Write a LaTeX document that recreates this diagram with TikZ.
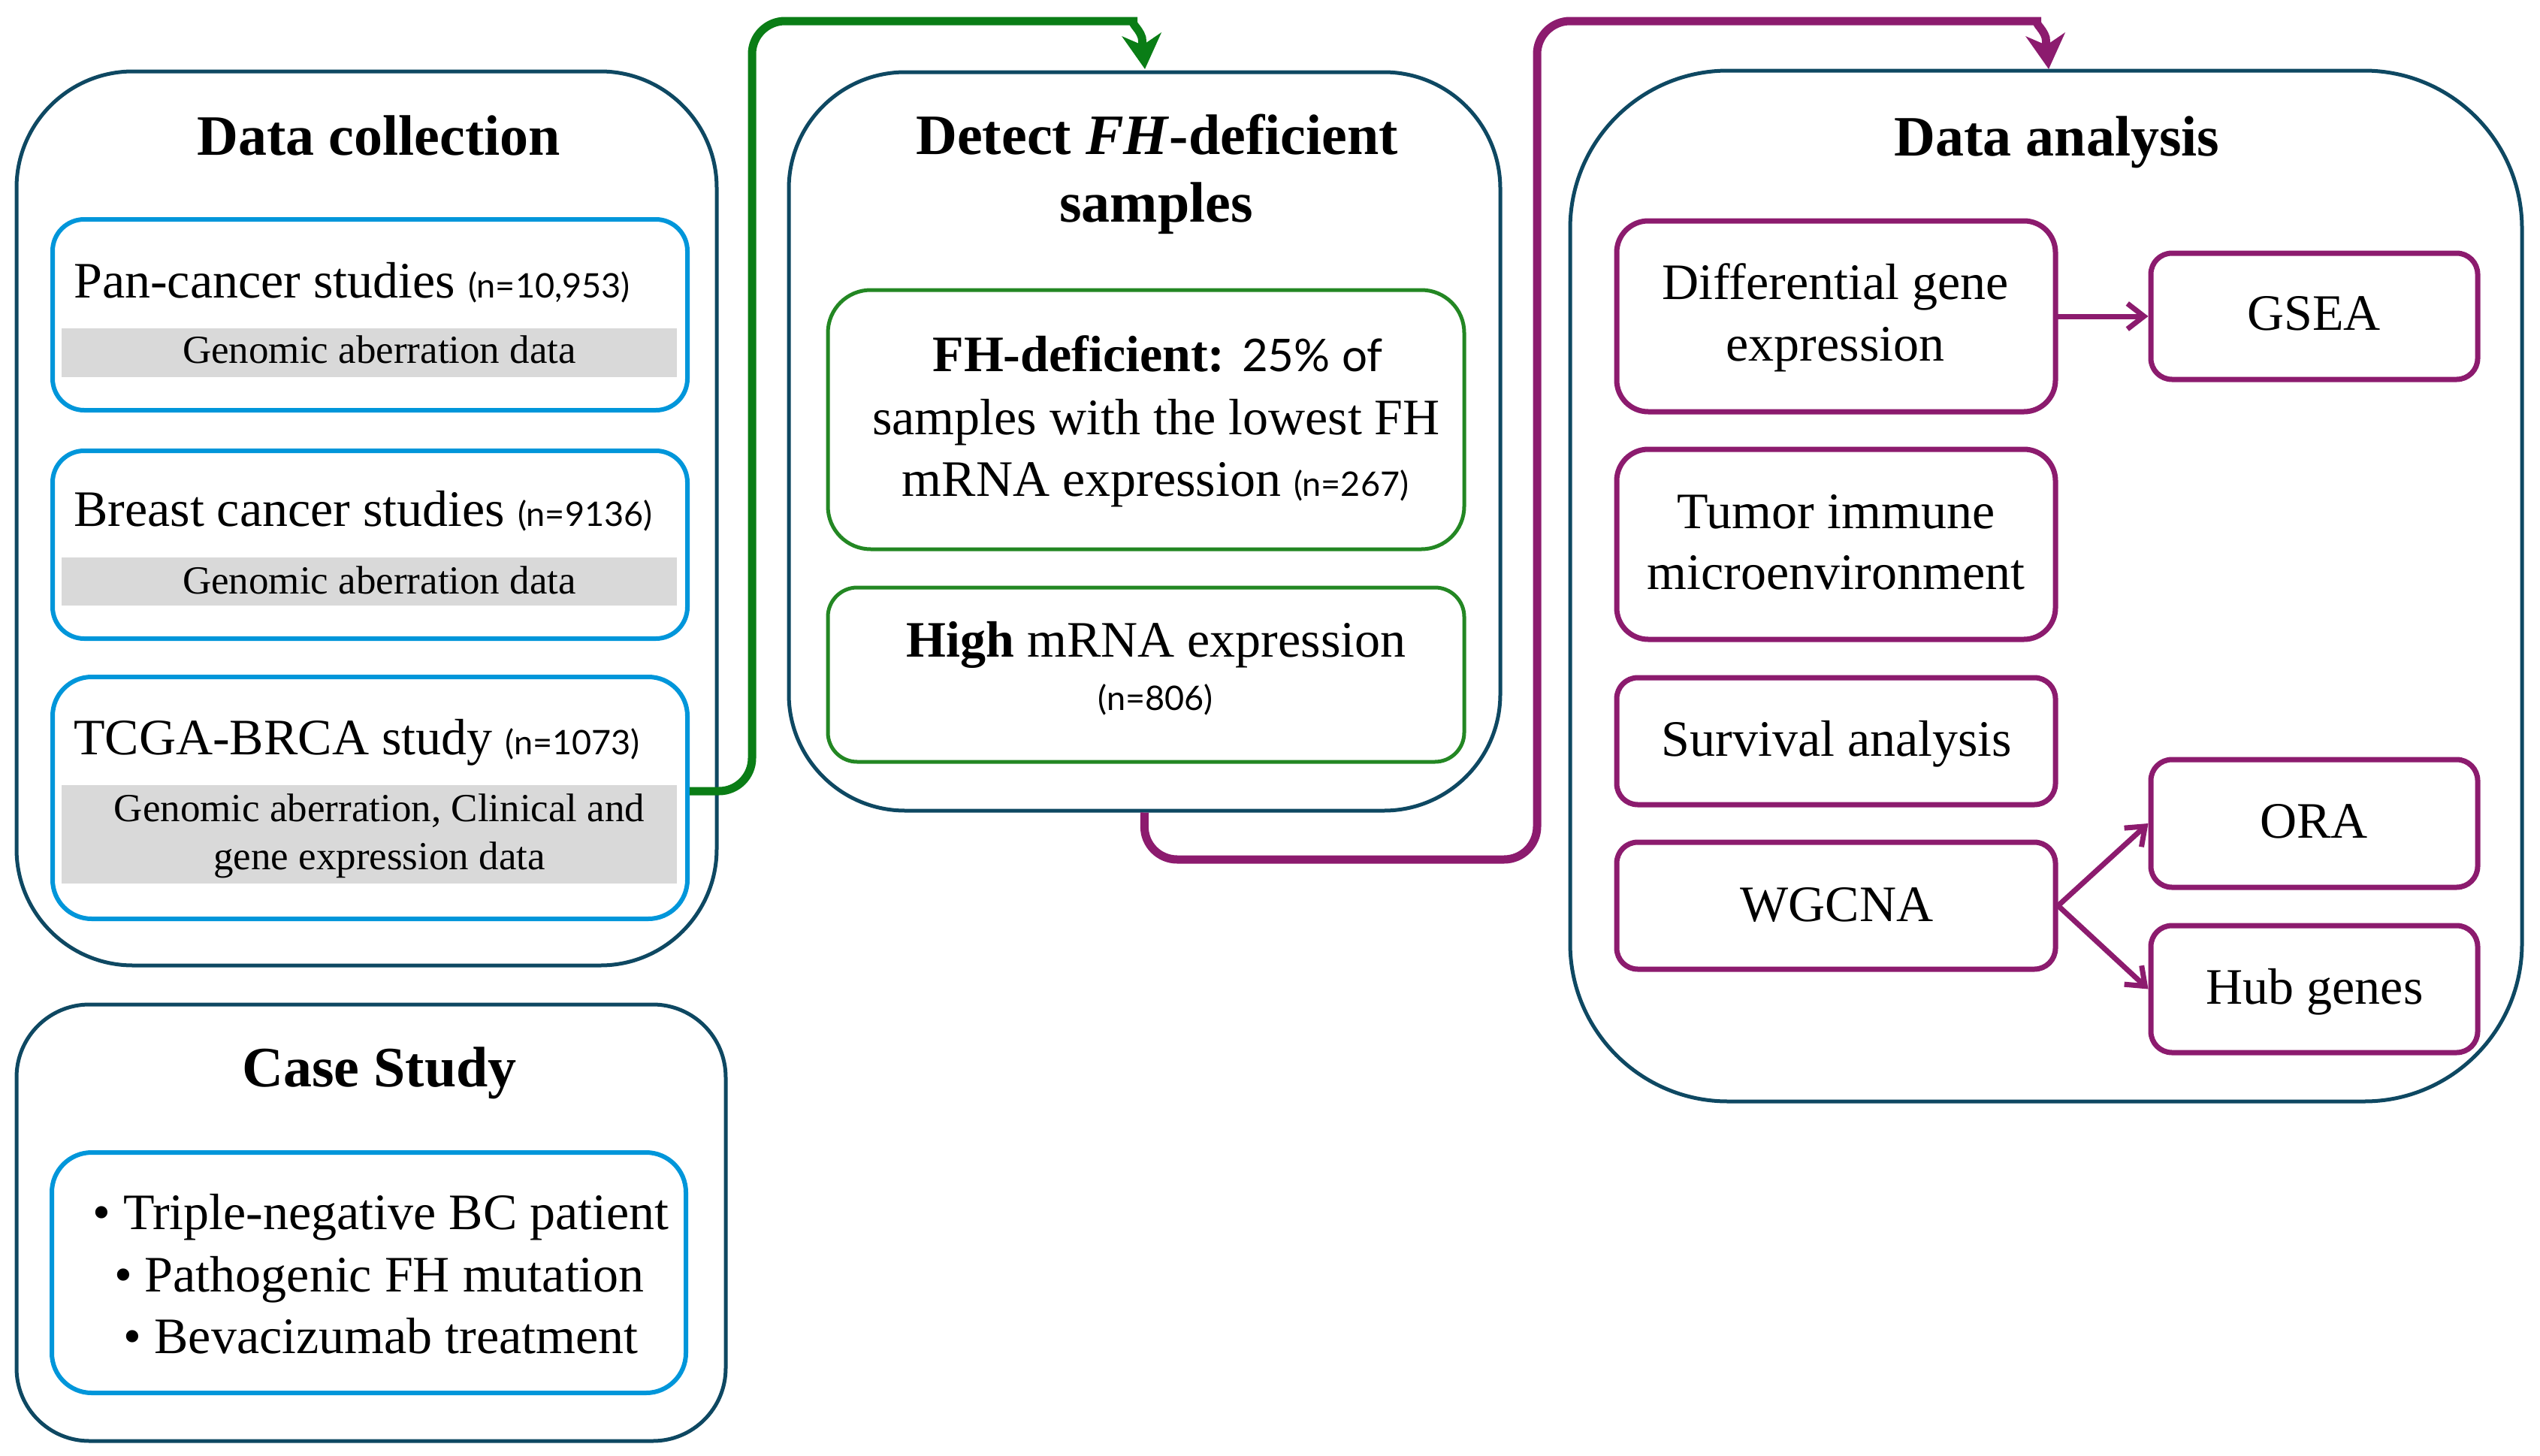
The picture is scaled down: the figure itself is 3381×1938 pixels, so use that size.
\documentclass[tikz,border=0pt]{standalone}
\usepackage{fontspec}
\setmainfont{Liberation Serif}
\newfontfamily\latofont{Lato}
\usetikzlibrary{arrows.meta}
\definecolor{tealc}{RGB}{14,72,98}
\definecolor{bluec}{RGB}{0,150,218}
\definecolor{grayc}{RGB}{217,217,217}
\definecolor{greenc}{RGB}{10,125,22}
\definecolor{greenbox}{RGB}{35,135,35}
\definecolor{purpc}{RGB}{140,27,110}
\newcommand{\nlab}[1]{{\latofont\fontsize{45}{54}\selectfont #1}}
\tikzset{
  outer/.style={draw=tealc, line width=5pt},
  blueb/.style={draw=bluec, line width=6pt},
  greenb/.style={draw=greenbox, line width=5pt},
  purpb/.style={draw=purpc, line width=7pt},
  band/.style={fill=grayc, draw=none},
  txt/.style={anchor=base, inner sep=0pt, font=\fontsize{68}{82}\selectfont},
  txtl/.style={txt, anchor=base west},
  ttl/.style={anchor=base, inner sep=0pt, font=\fontsize{76}{90}\selectfont\bfseries},
  gtxt/.style={anchor=base, inner sep=0pt, font=\fontsize{53}{64}\selectfont},
  conn/.style={line width=11pt, -{Stealth[length=46pt,width=52pt,inset=14pt]}},
  parrow/.style={draw=purpc, line width=7pt, line cap=round, -{Straight Barb[length=22pt,width=34pt]}},
}
\begin{document}
\begin{tikzpicture}[x=1pt,y=-1pt]
\useasboundingbox (0,0) rectangle (3381,1938);
\fill[white] (0,0) rectangle (3381,1938);

% ---------- Data collection ----------
\node[outer, rounded corners=155pt, minimum width=932pt, minimum height=1190pt] (dc) at (488,690) {};
\node[blueb, rounded corners=42pt, minimum width=845pt, minimum height=254pt] (b1) at (492.5,419) {};
\node[blueb, rounded corners=42pt, minimum width=845pt, minimum height=250pt] (b2) at (492.5,725) {};
\node[blueb, rounded corners=52pt, minimum width=845pt, minimum height=322pt] (b3) at (492.5,1062) {};
\node[band, minimum width=819pt, minimum height=65pt] (band1) at (491.5,469.5) {};
\node[band, minimum width=819pt, minimum height=64pt] (band2) at (491.5,774) {};
\node[band, minimum width=819pt, minimum height=131pt] (band3) at (491.5,1110.5) {};

\node[ttl] (tdc) at (504,206) {Data collection};
\node[txtl] (t1) at (98,396) {Pan-cancer studies \nlab{(n=10,953)}};
\node[gtxt] (t1g) at (505,483) {Genomic aberration data};
\node[txtl] (t2) at (98,700) {Breast cancer studies \nlab{(n=9136)}};
\node[gtxt] (t2g) at (505,790) {Genomic aberration data};
\node[txtl] (t3) at (98,1004) {TCGA-BRCA study \nlab{(n=1073)}};
\node[gtxt] (t3g) at (505,1093) {Genomic aberration, Clinical and};
\node[gtxt] (t3h) at (505,1157) {gene expression data};

% ---------- Case study ----------
\node[outer, rounded corners=97pt, minimum width=944pt, minimum height=581pt] (cs) at (494,1627.5) {};
\node[blueb, rounded corners=53pt, minimum width=844pt, minimum height=320pt] (cb) at (491,1694) {};
\node[ttl] (tcs) at (505,1446) {Case Study};
\node[txt] (c1) at (507,1636) {• Triple-negative BC patient};
\node[txt] (c2) at (505,1719) {• Pathogenic FH mutation};
\node[txt] (c3) at (507,1801) {• Bevacizumab treatment};

% ---------- Detect ----------
\node[outer, rounded corners=155pt, minimum width=947pt, minimum height=983pt] (detect) at (1523.5,587.5) {};
\node[greenb, rounded corners=57pt, minimum width=847pt, minimum height=345pt] (g1) at (1525.5,558.5) {};
\node[greenb, rounded corners=39pt, minimum width=847pt, minimum height=232pt] (g2) at (1525.5,898) {};
\node[ttl] (tdt1) at (1540,205) {Detect \textit{FH}-deficient};
\node[ttl] (tdt2) at (1539,295) {samples};
\node[txt] (g1a) at (1541,494) {\textbf{FH-deficient:} {\latofont\fontsize{60}{72}\selectfont 25\% of}};
\node[txt] (g1b) at (1539,578) {samples with the lowest FH};
\node[txt] (g1c) at (1538,660) {mRNA expression \nlab{(n=267)}};
\node[txt] (g2a) at (1539,874) {\textbf{High} mRNA expression};
\node[txt] (g2b) at (1538,945) {\nlab{(n=806)}};

% ---------- Data analysis ----------
\node[outer, rounded corners=210pt, minimum width=1267pt, minimum height=1372pt] (da) at (2723.5,780) {};
\node[purpb, rounded corners=42pt, minimum width=584pt, minimum height=254pt] (dge) at (2444,421) {};
\node[purpb, rounded corners=42pt, minimum width=584pt, minimum height=253pt] (tim) at (2444,724.5) {};
\node[purpb, rounded corners=28pt, minimum width=584pt, minimum height=169pt] (surv) at (2444,986.5) {};
\node[purpb, rounded corners=28pt, minimum width=584pt, minimum height=169pt] (wgcna) at (2444,1205.5) {};
\node[purpb, rounded corners=28pt, minimum width=435pt, minimum height=168pt] (gsea) at (3080.5,421) {};
\node[purpb, rounded corners=28pt, minimum width=435pt, minimum height=170pt] (ora) at (3080.5,1096) {};
\node[purpb, rounded corners=28pt, minimum width=435pt, minimum height=169pt] (hub) at (3080.5,1316.5) {};

\node[ttl] (tda) at (2738,207) {Data analysis};
\node[txt] (dge1) at (2443,398) {Differential gene};
\node[txt] (dge2) at (2443,480) {expression};
\node[txt] (tim1) at (2444,703) {Tumor immune};
\node[txt] (tim2) at (2444,784) {microenvironment};
\node[txt] (surv1) at (2445,1006) {Survival analysis};
\node[txt] (wg1) at (2445,1226) {WGCNA};
\node[txt] (gs1) at (3080,439) {GSEA};
\node[txt] (or1) at (3080,1115) {ORA};
\node[txt] (hb1) at (3081,1336) {Hub genes};

\draw[parrow] (dge.east) -- (gsea.west);
\draw[parrow] (wgcna.east) -- (ora.west);
\draw[parrow] (wgcna.east) -- (hub.west);

% ---------- Connectors ----------
\coordinate (gin) at (1524,92);
\draw[conn, draw=greenc] [rounded corners=44pt] ([yshift=9pt]b3.east) -- (1001,1053) -- (1001,28) -- (1470,28) [sharp corners] .. controls (1500,28) and (1516,36) .. (1520,50) -- (gin);
\coordinate (pin) at (2727,92);
\draw[conn, draw=purpc] [rounded corners=44pt] (detect.south) -- (1523,1144) -- (2046,1144) -- (2046,28) -- (2673,28) [sharp corners] .. controls (2703,28) and (2719,36) .. (2723,50) -- (pin);
\end{tikzpicture}
\end{document}
